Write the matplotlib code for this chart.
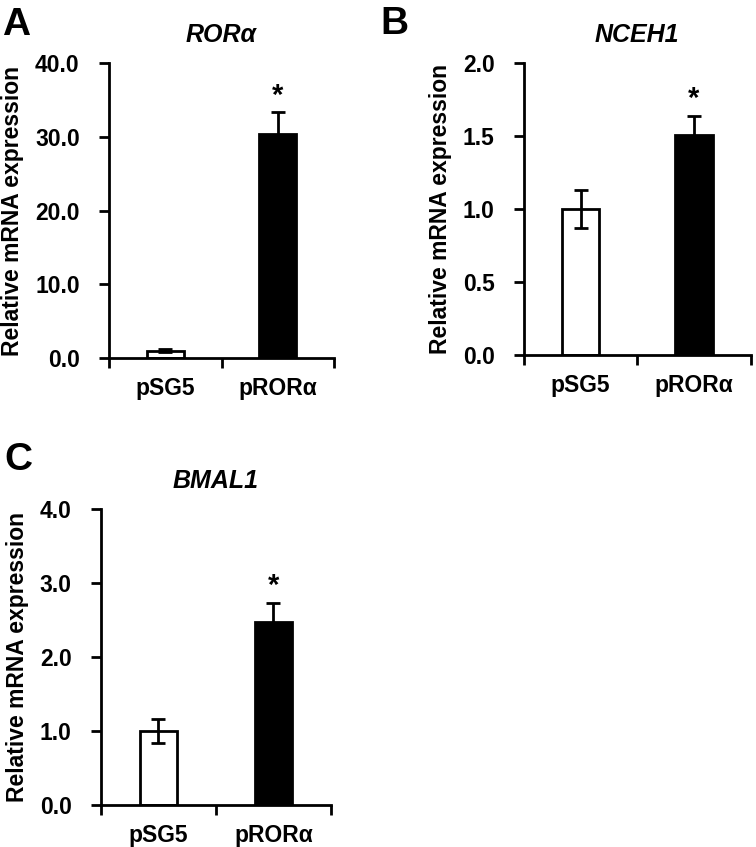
import numpy as np
import matplotlib
matplotlib.use("Agg")
import matplotlib.pyplot as plt

plt.rcParams['font.family'] = ['Liberation Sans', 'DejaVu Sans']
plt.rcParams['font.weight'] = 'bold'

groups = ['pSG5', 'pRORα']
bar_colors = ['white', 'black']

panels = ['A', 'B', 'C']
genes = ['RORα', 'NCEH1', 'BMAL1']
means = [[1.0, 30.4], [1.0, 1.51], [1.0, 2.48]]
errors = [[0.2, 2.9], [0.13, 0.13], [0.16, 0.25]]
ymax = [40.0, 2.0, 4.0]
ystep = [10.0, 0.5, 1.0]
signif = [[False, True], [False, True], [False, True]]

# axes boxes in figure fraction: left, bottom, width, height
boxes = [
    [0.144, 0.5773, 0.298, 0.3483],
    [0.693, 0.5809, 0.300, 0.3447],
    [0.1336, 0.0496, 0.3042, 0.3494],
]
letter_pos = [(0.003, 0.992), (0.503, 0.993), (0.006, 0.478)]

fs = 16.5

fig = plt.figure(figsize=(7.56, 8.47), dpi=100)

for i in range(3):
    ax = fig.add_axes(boxes[i])
    x = np.arange(len(groups))
    ax.bar(x, means[i], width=0.33, color=bar_colors, edgecolor='black',
           linewidth=2, zorder=2)
    ax.errorbar(x, means[i], yerr=errors[i], fmt='none', ecolor='black',
                elinewidth=2, capsize=5, capthick=2, zorder=3)
    for j in range(len(groups)):
        if signif[i][j]:
            ax.text(x[j], means[i][j] + errors[i][j] + ymax[i] * 0.01, '*',
                    ha='center', va='bottom', fontsize=21, fontweight='bold')
    ax.set_xlim(-0.5, 1.5)
    ax.set_ylim(0, ymax[i])
    yt = np.arange(0, ymax[i] + ystep[i] / 2, ystep[i])
    ax.set_yticks(yt)
    ax.set_yticklabels(['%.1f' % v for v in yt], fontsize=fs, fontweight='bold')
    ax.set_xticks([-0.5, 0.5, 1.5])
    ax.set_xticklabels([])
    ax.set_xticks(x, minor=True)
    ax.set_xticklabels(groups, minor=True, fontsize=fs, fontweight='bold')
    ax.tick_params(axis='x', which='minor', length=0, pad=14)
    ax.tick_params(axis='x', which='major', direction='out', length=7, width=2)
    ax.tick_params(axis='y', direction='out', length=7, width=2, pad=14)
    for s in ['top', 'right']:
        ax.spines[s].set_visible(False)
    for s in ['left', 'bottom']:
        ax.spines[s].set_linewidth(2)
    ax.spines['bottom'].set_zorder(4)
    ax.set_ylabel('Relative mRNA expression', fontsize=fs, fontweight='bold', labelpad=8)
    ax.set_title(genes[i], fontsize=18, fontweight='bold', fontstyle='italic', pad=15)
    fig.text(letter_pos[i][0], letter_pos[i][1], panels[i], fontsize=28,
             fontweight='bold', ha='left', va='top')

fig.savefig('out.png', dpi=100)
